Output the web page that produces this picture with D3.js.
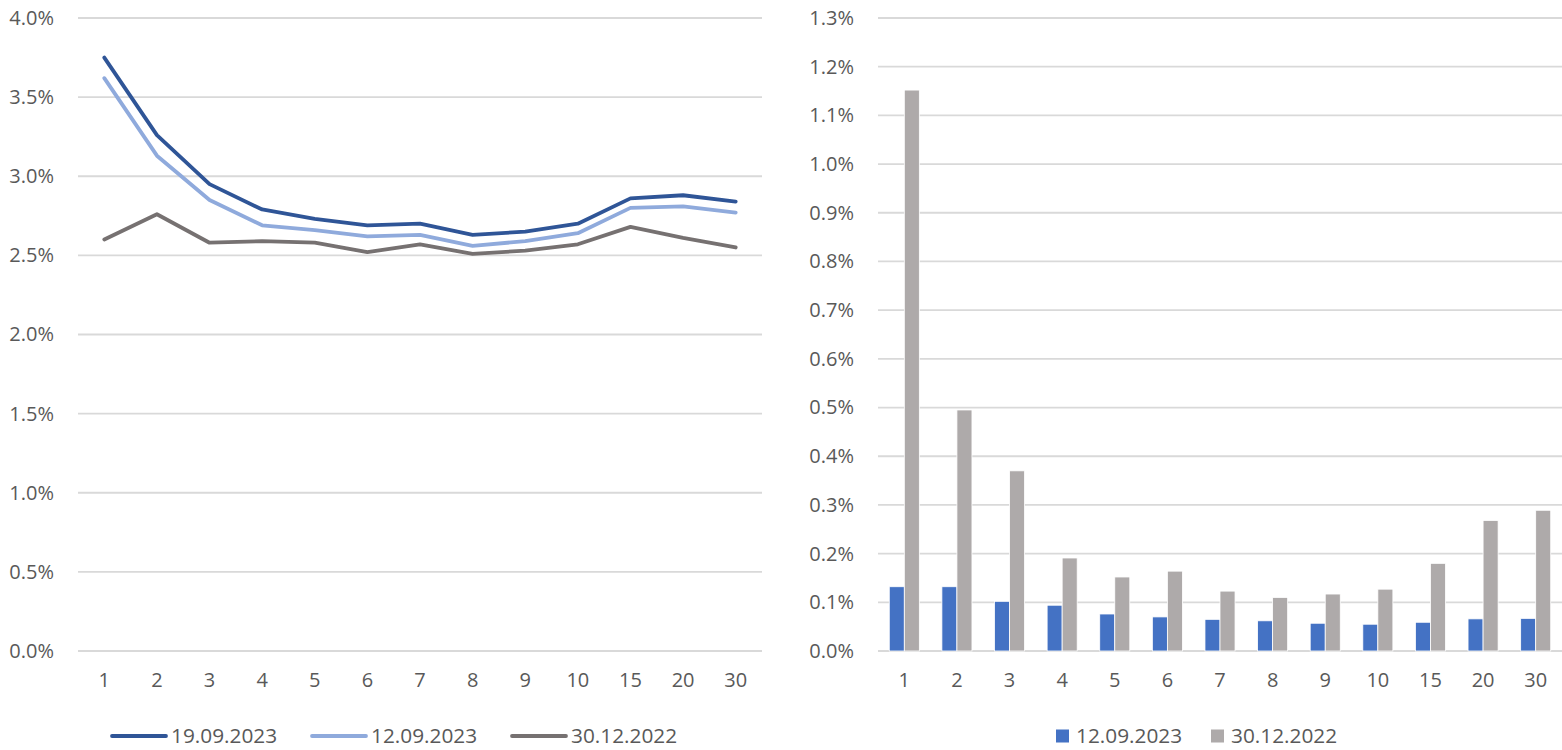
<!DOCTYPE html>
<html>
<head>
<meta charset="utf-8">
<script src="https://cdn.jsdelivr.net/npm/d3@7"></script>
<style>
  html, body { margin: 0; padding: 0; background: #fff; }
  svg text { font-family: "Open Sans", "Liberation Sans", sans-serif; fill: #595959; }
</style>
</head>
<body>
<svg id="chart" width="1562" height="750"></svg>
<script>
// Maturities (years)
const maturities = ["1", "2", "3", "4", "5", "6", "7", "8", "9", "10", "15", "20", "30"];

// Yield curves, in percent
const curve19092023 = [3.75, 3.26, 2.95, 2.79, 2.73, 2.69, 2.70, 2.63, 2.65, 2.70, 2.86, 2.88, 2.84];
const curve12092023 = [3.62, 3.13, 2.85, 2.69, 2.66, 2.62, 2.63, 2.56, 2.59, 2.64, 2.80, 2.81, 2.77];
const curve30122022 = [2.60, 2.76, 2.58, 2.59, 2.58, 2.52, 2.57, 2.51, 2.53, 2.57, 2.68, 2.61, 2.55];

// Changes, in percent
const change12092023 = [0.132, 0.132, 0.102, 0.094, 0.076, 0.070, 0.065, 0.062, 0.057, 0.055, 0.059, 0.066, 0.067];
const change30122022 = [1.152, 0.495, 0.370, 0.191, 0.152, 0.164, 0.123, 0.110, 0.117, 0.127, 0.180, 0.268, 0.289];

const lineTicks = [0, 0.5, 1.0, 1.5, 2.0, 2.5, 3.0, 3.5, 4.0];
const barTicks = d3.range(0, 14).map(i => i / 10);

const lineSeries = [
  { name: "19.09.2023", values: curve19092023, color: "#2F5597" },
  { name: "12.09.2023", values: curve12092023, color: "#8FAADC" },
  { name: "30.12.2022", values: curve30122022, color: "#767171" }
];
const barSeries = [
  { name: "12.09.2023", values: change12092023, color: "#4472C4" },
  { name: "30.12.2022", values: change30122022, color: "#AEAAAA" }
];

const svg = d3.select("#chart");
const fmt = v => d3.format(".1f")(v) + "%";
const fontSize = 20;
const legendFont = 20.8;
const gridColor = "#D9D9D9";

function drawFrame(g, x, y, ticks, x0, x1) {
  // horizontal gridlines
  g.append("g").selectAll("line").data(ticks).join("line")
    .attr("x1", x0).attr("x2", x1)
    .attr("y1", d => y(d)).attr("y2", d => y(d))
    .attr("stroke", gridColor).attr("stroke-width", 1.8);

  // y axis labels
  const yAxis = d3.axisLeft(y).tickValues(ticks).tickFormat(fmt).tickSize(0).tickPadding(24);
  const ya = g.append("g").attr("transform", `translate(${x0},0)`).call(yAxis);
  ya.select(".domain").remove();
  ya.selectAll("text").attr("font-size", fontSize).attr("fill", "#595959")
    .style("font-family", "'Open Sans', sans-serif");

  // x axis labels
  const xAxis = d3.axisBottom(x).tickSize(0).tickPadding(22);
  const xa = g.append("g").attr("transform", `translate(0,${y(0)})`).call(xAxis);
  xa.select(".domain").remove();
  xa.selectAll("text").attr("font-size", fontSize).attr("fill", "#595959")
    .style("font-family", "'Open Sans', sans-serif");
}

// ---------- Left: yield curves ----------
const L = { x0: 78, x1: 762, top: 18, bottom: 651 };
const xL = d3.scaleBand().domain(maturities).range([L.x0, L.x1]);
const yL = d3.scaleLinear().domain([0, 4]).range([L.bottom, L.top]);
const gL = svg.append("g");
drawFrame(gL, xL, yL, lineTicks, L.x0, L.x1);

const line = d3.line()
  .x((d, i) => xL(maturities[i]) + xL.bandwidth() / 2)
  .y(d => yL(d));

gL.append("g").selectAll("path").data(lineSeries.slice().reverse()).join("path")
  .attr("d", d => line(d.values))
  .attr("fill", "none")
  .attr("stroke", d => d.color)
  .attr("stroke-width", 3.8)
  .attr("stroke-linejoin", "round")
  .attr("stroke-linecap", "round");

// legend for curves
const legL = gL.append("g");
const legLPos = [112, 312, 512];
lineSeries.forEach((s, i) => {
  const gi = legL.append("g").attr("transform", `translate(${legLPos[i]},736)`);
  gi.append("line").attr("x1", 0).attr("x2", 54).attr("y1", 0).attr("y2", 0)
    .attr("stroke", s.color).attr("stroke-width", 3.8).attr("stroke-linecap", "round");
  gi.append("text").attr("x", 59).attr("y", 0).attr("dy", "0.35em")
    .attr("font-size", legendFont).text(s.name);
});

// ---------- Right: changes ----------
const R = { x0: 878, x1: 1562, top: 18, bottom: 651 };
const xR = d3.scaleBand().domain(maturities).range([R.x0, R.x1])
  .paddingInner(1.5 / 3.5).paddingOuter(0.75 / 3.5);
const xRin = d3.scaleBand().domain(barSeries.map(s => s.name)).range([0, xR.bandwidth()]);
const yR = d3.scaleLinear().domain([0, 1.3]).range([R.bottom, R.top]);
const gR = svg.append("g");

// category axis uses full-step bands so labels sit on category centres
const xRlab = d3.scaleBand().domain(maturities).range([R.x0, R.x1]);
drawFrame(gR, xRlab, yR, barTicks, R.x0, R.x1);

const groups = gR.append("g").selectAll("g").data(maturities).join("g")
  .attr("transform", d => `translate(${xR(d)},0)`);
groups.selectAll("rect")
  .data((d, i) => barSeries.map(s => ({ key: s.name, value: s.values[i], color: s.color })))
  .join("rect")
  .attr("x", d => xRin(d.key))
  .attr("width", xRin.bandwidth())
  .attr("y", d => yR(d.value))
  .attr("height", d => yR(0) - yR(d.value))
  .attr("fill", d => d.color)
  .attr("stroke", "#fff")
  .attr("stroke-width", 0.8);

// legend for changes
const legR = gR.append("g");
const legRPos = [1056, 1211];
barSeries.forEach((s, i) => {
  const gi = legR.append("g").attr("transform", `translate(${legRPos[i]},736)`);
  gi.append("rect").attr("x", 0).attr("y", -6.5).attr("width", 13).attr("height", 13)
    .attr("fill", s.color);
  gi.append("text").attr("x", 20).attr("y", 0).attr("dy", "0.35em")
    .attr("font-size", legendFont).text(s.name);
});
</script>
</body>
</html>
